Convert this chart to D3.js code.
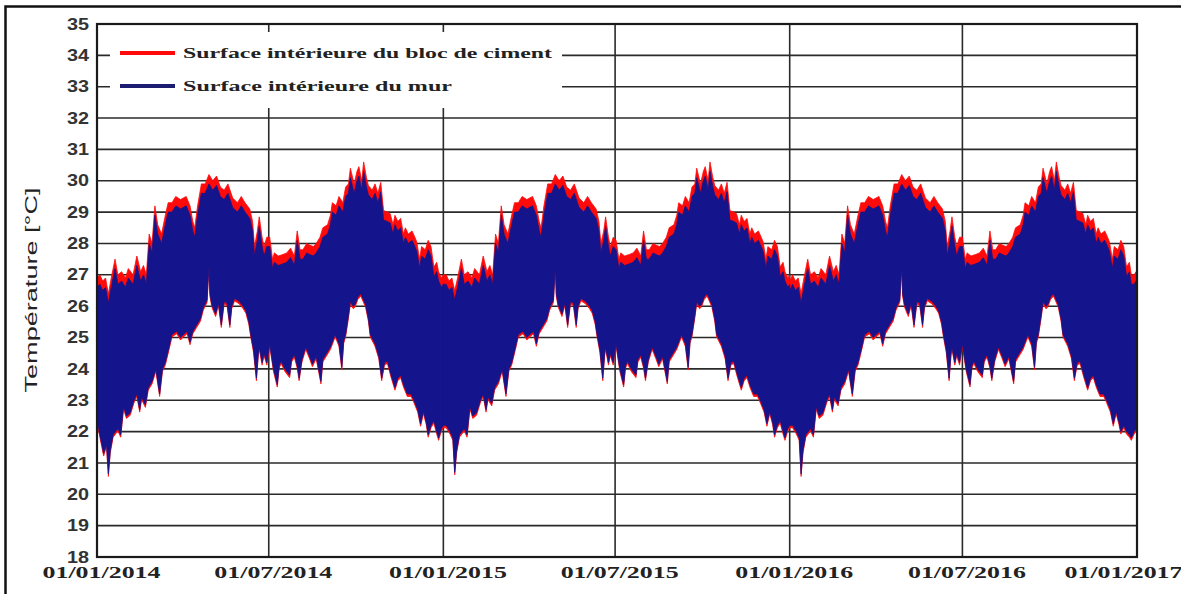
<!DOCTYPE html>
<html><head><meta charset="utf-8">
<script src="https://cdn.jsdelivr.net/npm/d3@7"></script>
<style>body{margin:0;background:#fff;overflow:hidden}</style>
</head><body><svg id="c" width="1181" height="594"></svg>
<script>
// ---------- DATA ----------
const seriesNames = ["Surface intérieure du bloc de ciment", "Surface intérieure du mur"];
const yearStarts = ["2014-01-01", "2015-01-01", "2016-01-01"];
const xTickDates = ["2014-01-01","2014-07-01","2015-01-01","2015-07-01","2016-01-01","2016-07-01","2017-01-01"];
const xTickLabels = ["01/01/2014","01/07/2014","01/01/2015","01/07/2015","01/01/2016","01/07/2016","01/01/2017"];
const yTickValues = [18,19,20,21,22,23,24,25,26,27,28,29,30,31,32,33,34,35];

// day-of-year positions of the upper envelope readings
const topDay = [0,3,6,9,12,15,19,22,26,30, 33,38,42,46,49,52,55,58,61,64,
  68,72,75,79,83,88,94,98,101,103, 106,110,114,118,122,126,130,134,138,143,
  148,152,156,161,164,166,169,171,174,176, 179,182,185,187,191,196,200,204,208,211,
  214,217,221,224,228,231,235,238,243,246, 248,252,255,259,262,265,267,271,274,276,
  279,281,284,286,290,293,296,299,302,306, 309,312,314,317,320,323,325,328,332,335,
  337,340,342,346,349,352,355,358,360,363, 365];

// red series (bloc de ciment) upper envelope, per year
const redTop2014 = [26.9,27.0,26.8,26.9,26.4,26.9,27.5,27.0,27.1,26.9, 27.2,27.0,27.6,27.1,27.3,27.0,28.3,28.0,29.2,28.6,
  28.3,28.9,29.3,29.3,29.5,29.4,29.5,29.2,28.7,28.5, 29.2,29.9,29.9,30.2,30.0,30.15,29.8,29.7,29.9,29.45,
  29.3,29.5,29.3,29.1,28.7,27.9,28.4,28.85,28.2,27.9, 28.2,28.2,27.5,27.7,27.6,27.65,27.7,27.85,27.6,28.4,
  27.8,27.8,28.0,27.95,27.9,28.0,28.2,28.5,28.6,28.9, 29.3,29.2,29.5,29.3,29.8,29.9,30.4,29.9,30.3,30.45,
  30.0,30.6,30.1,29.85,29.7,29.9,29.6,29.95,29.05,29.0, 28.95,28.6,28.9,28.7,28.8,28.3,28.5,28.3,28.4,28.2,
  28.05,27.5,27.9,27.8,28.1,27.9,27.25,27.4,27.1,26.9, 27.0];
const redTop2015 = [27.0,27.0,26.8,26.9,26.5,26.9,27.5,27.0,27.1,26.9, 27.2,27.0,27.6,27.1,27.3,27.0,28.3,28.0,29.2,28.6,
  28.3,28.9,29.3,29.3,29.5,29.4,29.5,29.2,28.7,28.5, 29.2,29.9,29.9,30.2,30.0,30.15,29.8,29.7,29.9,29.45,
  29.3,29.5,29.3,29.1,28.7,28.0,28.4,28.85,28.2,27.9, 28.2,28.1,27.5,27.7,27.6,27.65,27.7,27.85,27.6,28.4,
  27.8,27.8,28.0,27.95,27.9,28.0,28.2,28.5,28.6,28.9, 29.3,29.2,29.5,29.3,29.8,29.9,30.4,29.9,30.3,30.45,
  30.0,30.6,30.1,29.85,29.7,29.9,29.6,29.95,29.05,29.0, 28.95,28.6,28.9,28.7,28.8,28.3,28.5,28.3,28.4,28.2,
  28.05,27.5,27.9,27.8,28.1,27.9,27.25,27.4,27.1,26.9, 27.0];
const redTop2016 = [26.8,27.0,26.8,26.9,26.4,26.9,27.5,27.0,27.1,26.9, 27.2,27.0,27.6,27.1,27.3,27.0,28.3,28.0,29.2,28.6,
  28.3,28.9,29.3,29.3,29.5,29.4,29.5,29.2,28.7,28.5, 29.2,29.9,29.9,30.2,30.0,30.15,29.8,29.7,29.9,29.45,
  29.3,29.5,29.3,29.1,28.7,27.9,28.4,28.85,28.2,27.9, 28.2,28.2,27.5,27.7,27.6,27.65,27.7,27.85,27.6,28.4,
  27.8,27.8,28.0,27.95,27.9,28.0,28.2,28.5,28.6,28.9, 29.3,29.2,29.5,29.3,29.8,29.9,30.4,29.9,30.3,30.45,
  30.0,30.6,30.1,29.85,29.7,29.9,29.6,29.95,29.05,29.0, 28.95,28.6,28.9,28.7,28.8,28.3,28.5,28.3,28.4,28.2,
  28.05,27.5,27.9,27.8,28.1,27.9,27.25,27.4,27.0,27.0, 27.1];

// blue series (mur) upper envelope, per year
const blueTop2014 = [26.6,26.7,26.5,26.6,26.1,26.6,27.2,26.7,26.8,26.6, 26.9,26.7,27.3,26.8,27.0,26.7,28.0,27.7,28.9,28.3,
  28.0,28.6,29.0,29.0,29.2,29.1,29.2,28.9,28.4,28.2, 28.9,29.6,29.6,29.9,29.7,29.85,29.5,29.4,29.6,29.15,
  29.0,29.2,29.0,28.8,28.4,27.6,28.1,28.55,27.9,27.6, 27.9,27.9,27.2,27.4,27.3,27.35,27.4,27.55,27.3,28.1,
  27.5,27.5,27.7,27.65,27.6,27.7,27.9,28.2,28.3,28.6, 29.0,28.9,29.2,29.0,29.5,29.6,30.1,29.6,30.0,30.15,
  29.7,30.3,29.8,29.55,29.4,29.6,29.3,29.65,28.75,28.7, 28.65,28.3,28.6,28.4,28.5,28.0,28.2,28.0,28.1,27.9,
  27.75,27.2,27.6,27.5,27.8,27.6,26.95,27.1,26.8,26.6, 26.7];
const blueTop2015 = [26.7,26.7,26.5,26.6,26.2,26.6,27.2,26.7,26.8,26.6, 26.9,26.7,27.3,26.8,27.0,26.7,28.0,27.7,28.9,28.3,
  28.0,28.6,29.0,29.0,29.2,29.1,29.2,28.9,28.4,28.2, 28.9,29.6,29.6,29.9,29.7,29.85,29.5,29.4,29.6,29.15,
  29.0,29.2,29.0,28.8,28.4,27.7,28.1,28.55,27.9,27.6, 27.9,27.8,27.2,27.4,27.3,27.35,27.4,27.55,27.3,28.1,
  27.5,27.5,27.7,27.65,27.6,27.7,27.9,28.2,28.3,28.6, 29.0,28.9,29.2,29.0,29.5,29.6,30.1,29.6,30.0,30.15,
  29.7,30.3,29.8,29.55,29.4,29.6,29.3,29.65,28.75,28.7, 28.65,28.3,28.6,28.4,28.5,28.0,28.2,28.0,28.1,27.9,
  27.75,27.2,27.6,27.5,27.8,27.6,26.95,27.1,26.8,26.6, 26.7];
const blueTop2016 = [26.5,26.7,26.5,26.6,26.1,26.6,27.2,26.7,26.8,26.6, 26.9,26.7,27.3,26.8,27.0,26.7,28.0,27.7,28.9,28.3,
  28.0,28.6,29.0,29.0,29.2,29.1,29.2,28.9,28.4,28.2, 28.9,29.6,29.6,29.9,29.7,29.85,29.5,29.4,29.6,29.15,
  29.0,29.2,29.0,28.8,28.4,27.6,28.1,28.55,27.9,27.6, 27.9,27.9,27.2,27.4,27.3,27.35,27.4,27.55,27.3,28.1,
  27.5,27.5,27.7,27.65,27.6,27.7,27.9,28.2,28.3,28.6, 29.0,28.9,29.2,29.0,29.5,29.6,30.1,29.6,30.0,30.15,
  29.7,30.3,29.8,29.55,29.4,29.6,29.3,29.65,28.75,28.7, 28.65,28.3,28.6,28.4,28.5,28.0,28.2,28.0,28.1,27.9,
  27.75,27.2,27.6,27.5,27.8,27.6,26.95,27.1,26.7,26.7, 26.8];

// day-of-year positions of the lower envelope readings
const bottomDay = [0,3,7,10,12,14,17,22,25,28, 31,35,39,42,45,47,51,54,58,62,
  66,69,72,76,79,84,88,91,95,98, 101,105,109,112,116,118,119,121,125,128,
  131,134,137,140,142,145,150,154,157,160, 162,165,168,170,171,174,176,179,182,186,
  190,192,194,198,203,205,208,211,213,216, 220,224,227,231,236,238,241,246,251,255,
  258,260,262,265,267,270,272,275,278,283, 286,288,293,297,300,303,306,310,314,317,
  320,323,327,331,334,338,341,344,347,349, 352,355,358,360,363,365];

// lower envelope (both series), per year
const bottom2014 = [22.4,21.9,21.3,21.6,20.65,21.4,21.9,22.1,21.9,22.8, 22.5,22.6,23.0,23.2,22.7,23.1,22.85,23.4,23.6,24.0,
  23.2,24.0,24.2,24.7,25.1,25.2,25.0,25.1,25.2,24.85, 25.2,25.4,25.6,25.95,26.2,27.3,26.4,26.05,25.75,26.1,
  25.4,26.15,26.1,25.4,26.0,26.25,26.15,26.0,25.85,25.5, 25.1,24.6,23.7,24.5,24.7,24.2,24.5,24.2,24.8,24.0,
  23.5,24.1,24.25,24.0,23.8,24.3,24.45,24.1,23.7,24.3, 24.7,24.4,24.15,24.4,23.6,24.3,24.45,24.7,25.1,24.8,
  24.05,24.9,25.1,25.7,26.15,26.0,26.05,26.3,26.4,26.05, 25.6,25.1,24.8,24.4,23.7,24.2,24.25,23.8,23.4,23.7,
  23.8,23.5,23.2,23.2,23.0,22.7,22.25,22.65,22.3,21.9, 22.2,22.35,22.0,21.8,22.1,22.2];
const bottom2015 = [22.2,22.2,22.0,21.8,20.7,21.4,21.9,22.1,21.9,22.8, 22.5,22.6,23.0,23.2,22.7,23.1,22.9,23.4,23.6,24.0,
  23.2,24.0,24.2,24.7,25.1,25.2,25.0,25.1,25.2,24.8, 25.2,25.4,25.6,25.95,26.2,27.3,26.4,26.05,25.75,26.1,
  25.4,26.15,26.1,25.4,26.0,26.25,26.15,26.0,25.85,25.5, 25.1,24.6,23.7,24.5,24.7,24.2,24.5,24.2,24.8,24.0,
  23.5,24.1,24.25,24.0,23.8,24.3,24.45,24.1,23.7,24.3, 24.7,24.4,24.15,24.4,23.6,24.3,24.45,24.7,25.1,24.8,
  24.05,24.9,25.1,25.7,26.15,26.0,26.05,26.3,26.4,26.05, 25.6,25.1,24.8,24.4,23.7,24.2,24.25,23.8,23.4,23.7,
  23.8,23.5,23.2,23.2,23.0,22.7,22.25,22.65,22.3,21.9, 22.2,22.35,22.0,21.8,22.1,22.2];
const bottom2016 = [22.2,22.2,22.0,21.8,20.65,21.4,21.9,22.1,21.9,22.8, 22.5,22.6,23.0,23.2,22.7,23.1,22.9,23.4,23.6,24.0,
  23.2,24.0,24.2,24.7,25.1,25.2,25.0,25.1,25.2,24.8, 25.2,25.4,25.6,25.95,26.2,27.3,26.4,26.05,25.75,26.1,
  25.4,26.15,26.1,25.4,26.0,26.25,26.15,26.0,25.85,25.5, 25.1,24.6,23.7,24.5,24.7,24.2,24.5,24.2,24.8,24.0,
  23.5,24.1,24.25,24.0,23.8,24.3,24.45,24.1,23.7,24.3, 24.7,24.4,24.15,24.4,23.6,24.3,24.45,24.7,25.1,24.8,
  24.05,24.9,25.1,25.7,26.15,26.0,26.05,26.3,26.4,26.05, 25.6,25.1,24.8,24.4,23.7,24.2,24.25,23.8,23.4,23.7,
  23.8,23.5,23.2,23.2,23.0,22.7,22.25,22.65,22.3,22.0, 22.2,22.0,21.9,21.8,22.0,22.1];

const redTopByYear = [redTop2014, redTop2015, redTop2016];
const blueTopByYear = [blueTop2014, blueTop2015, blueTop2016];
const bottomByYear = [bottom2014, bottom2015, bottom2016];

// ---------- CHART ----------
const W = 1181, H = 594;
const M = {left: 97, right: 1137, top: 24, bottom: 557};
const parse = d3.timeParse("%Y-%m-%d");
const svg = d3.select("#c");

const x = d3.scaleTime().domain([parse(xTickDates[0]), parse(xTickDates[xTickDates.length-1])]).range([M.left, M.right]);
const y = d3.scaleLinear().domain([18, 35]).range([M.bottom, M.top]);

// outer frame
svg.append("rect").attr("x", 5.5).attr("y", 6.5).attr("width", 1180).attr("height", 600)
  .attr("fill", "none").attr("stroke", "#111").attr("stroke-width", 2.5);

// grid
const grid = svg.append("g");
yTickValues.slice(1, -1).forEach(v => {
  grid.append("line").attr("x1", M.left).attr("x2", M.right).attr("y1", y(v)).attr("y2", y(v))
    .attr("stroke", "#2a2a2a").attr("stroke-width", 1.6);
});
xTickDates.slice(1, -1).forEach(d => {
  grid.append("line").attr("x1", x(parse(d))).attr("x2", x(parse(d))).attr("y1", M.top).attr("y2", M.bottom)
    .attr("stroke", "#2a2a2a").attr("stroke-width", 1.6);
});

// data
svg.append("clipPath").attr("id", "clip").append("rect")
  .attr("x", M.left).attr("y", M.top).attr("width", M.right - M.left).attr("height", M.bottom - M.top);
const dataG = svg.append("g").attr("clip-path", "url(#clip)");
const line = d3.line();

function bandPath(yearIdx, tops, offsetBottom) {
  const start = parse(yearStarts[yearIdx]);
  const up = topDay.map((d, i) => [x(d3.timeDay.offset(start, d)), y(tops[i])]);
  const low = bottomDay.map((d, i) => [x(d3.timeDay.offset(start, d)), y(bottomByYear[yearIdx][i] - offsetBottom)]);
  return line(up.concat(low.reverse())) + "Z";
}
const red = "#ff0a0a", blue = "#14148c";
yearStarts.forEach((s, i) => {
  dataG.append("path").attr("d", bandPath(i, redTopByYear[i], 0.08))
    .attr("fill", red).attr("stroke", red).attr("stroke-width", 0.8).attr("stroke-linejoin", "round");
});
yearStarts.forEach((s, i) => {
  dataG.append("path").attr("d", bandPath(i, blueTopByYear[i], 0))
    .attr("fill", blue).attr("stroke", blue).attr("stroke-width", 0.8).attr("stroke-linejoin", "round");
});

// legend box
svg.append("rect").attr("x", 110).attr("y", 32).attr("width", 452).attr("height", 76).attr("fill", "#fff");
const legendY = [53, 86];
const legendColors = [red, "#1c1c70"];
const legendLen = [369, 269];
seriesNames.forEach((n, i) => {
  svg.append("line").attr("x1", 120).attr("x2", 175).attr("y1", legendY[i]).attr("y2", legendY[i])
    .attr("stroke", legendColors[i]).attr("stroke-width", 4);
  svg.append("text").attr("x", 183).attr("y", legendY[i] + 5)
    .attr("font-family", "Liberation Serif, Times New Roman, serif").attr("font-weight", "bold")
    .attr("font-size", 15).attr("fill", "#222")
    .attr("textLength", legendLen[i]).attr("lengthAdjust", "spacingAndGlyphs").text(n);
});

// plot frame
svg.append("rect").attr("x", M.left).attr("y", M.top).attr("width", M.right - M.left).attr("height", M.bottom - M.top)
  .attr("fill", "none").attr("stroke", "#1a1a1a").attr("stroke-width", 2.2);

// y axis
const yAxis = svg.append("g").attr("transform", `translate(${M.left},0)`)
  .call(d3.axisLeft(y).tickValues(yTickValues).tickSize(0).tickPadding(8).tickFormat(d3.format("d")));
yAxis.select(".domain").remove();
yAxis.selectAll("text").attr("font-family", "Liberation Sans, Arial, sans-serif").attr("font-weight", "bold")
  .attr("font-size", 16).attr("fill", "#333").attr("textLength", 22).attr("lengthAdjust", "spacingAndGlyphs");

// x axis
const xAxis = svg.append("g").attr("transform", `translate(0,${M.bottom})`)
  .call(d3.axisBottom(x).tickValues(xTickDates.map(parse)).tickSize(0).tickPadding(10)
    .tickFormat((d, i) => xTickLabels[i]));
xAxis.select(".domain").remove();
xAxis.selectAll("text").attr("font-family", "Liberation Serif, Times New Roman, serif").attr("font-weight", "bold")
  .attr("font-size", 16).attr("fill", "#222").attr("textLength", 118).attr("lengthAdjust", "spacingAndGlyphs")
  .attr("dx", (d, i) => i === xTickLabels.length - 1 ? -14 : 4);

// y title
svg.append("text").attr("transform", "translate(37,290) rotate(-90)").attr("text-anchor", "middle")
  .attr("font-family", "Liberation Sans, Arial, sans-serif").attr("font-size", 16).attr("fill", "#222")
  .attr("textLength", 205).attr("lengthAdjust", "spacingAndGlyphs").text("Température [°C]");
</script>
</body></html>
